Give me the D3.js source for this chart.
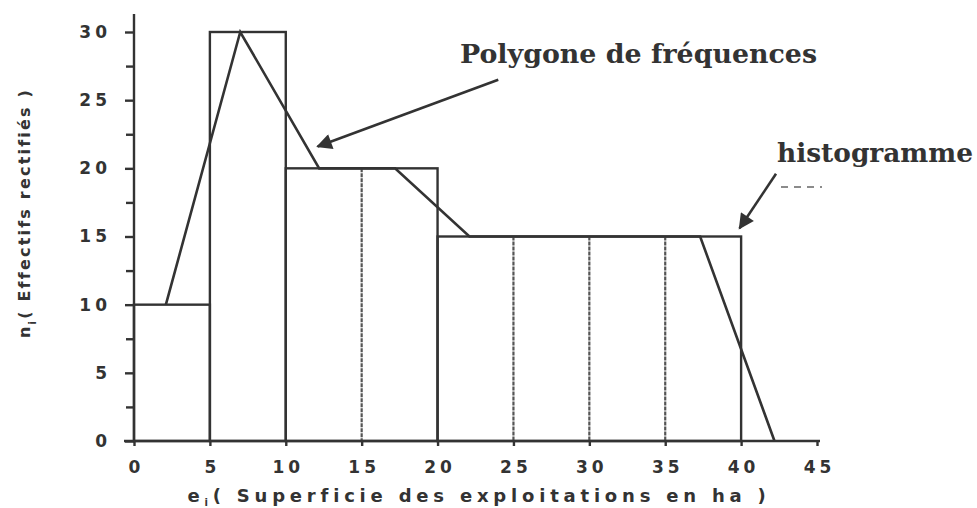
<!DOCTYPE html>
<html>
<head>
<meta charset="utf-8">
<title>Histogramme et polygone de fréquences</title>
<script src="https://cdn.jsdelivr.net/npm/d3@7"></script>
<style>
  body { margin: 0; background: #fff; }
  text { fill: #333; }
</style>
</head>
<body>
<div id="chart"></div>
<script>
// classes of the histogram (ha) and rectified counts
var classLow  = [0, 5, 10, 20];
var classHigh = [5, 10, 20, 40];
var classN    = [10, 30, 20, 15];

// thin dividing lines inside the wide classes
var dividerX = [15, 25, 30, 35];
var dividerN = [20, 15, 15, 15];

// frequency polygon
var polyX = [2.1, 7, 12.2, 17.2, 22.1, 37.3, 42.2];
var polyN = [10, 30, 20, 20, 15, 15, 0];

var xTicks = [0, 5, 10, 15, 20, 25, 30, 35, 40, 45];
var yTicks = [0, 5, 10, 15, 20, 25, 30];
var yMinor = [2.5, 7.5, 12.5, 17.5, 22.5, 27.5];

var width = 977, height = 508;
var ink = "#333";

var x = d3.scaleLinear().domain([0, 45]).range([134, 817]);
var y = d3.scaleLinear().domain([0, 30]).range([441, 32]);

var svg = d3.select("#chart").append("svg")
  .attr("width", width)
  .attr("height", height);

svg.append("defs").append("marker")
  .attr("id", "head")
  .attr("viewBox", "0 0 10 10")
  .attr("refX", 9).attr("refY", 5)
  .attr("markerWidth", 7).attr("markerHeight", 6)
  .attr("markerUnits", "strokeWidth")
  .attr("orient", "auto")
  .append("path")
  .attr("d", "M0,0 L10,5 L0,10 z")
  .style("fill", ink);

// histogram bars
var bars = classLow.map(function(d, i) { return {lo: d, hi: classHigh[i], n: classN[i]}; });
svg.selectAll("rect.bar").data(bars).enter().append("rect")
  .attr("class", "bar")
  .attr("x", function(d) { return x(d.lo); })
  .attr("y", function(d) { return y(d.n); })
  .attr("width", function(d) { return x(d.hi) - x(d.lo); })
  .attr("height", function(d) { return y(0) - y(d.n); })
  .style("fill", "none")
  .style("stroke", ink)
  .style("stroke-width", 2.4);

// inner dividers
svg.selectAll("line.div").data(dividerX).enter().append("line")
  .attr("class", "div")
  .attr("x1", function(d) { return x(d); })
  .attr("x2", function(d) { return x(d); })
  .attr("y1", function(d, i) { return y(dividerN[i]); })
  .attr("y2", y(0))
  .style("stroke", "#555")
  .style("stroke-width", 2.2)
  .style("stroke-dasharray", "4,1");

// frequency polygon
var pts = polyX.map(function(d, i) { return [x(d), y(polyN[i])]; });
svg.append("path")
  .attr("d", d3.line()(pts))
  .style("fill", "none")
  .style("stroke", ink)
  .style("stroke-width", 2.6)
  .style("stroke-linejoin", "miter");

// y axis
var yAxis = svg.append("g").attr("transform", "translate(" + x(0) + ",0)")
  .call(d3.axisLeft(y).tickValues(yTicks).tickSize(9).tickPadding(14)
    .tickFormat(d3.format("d")));
svg.append("g").attr("transform", "translate(" + x(0) + ",0)")
  .call(d3.axisLeft(y).tickValues(yMinor).tickSize(8).tickFormat(""))
  .select(".domain").remove();
yAxis.select(".domain").attr("d", "M0,14 V" + y(0));

// x axis
var xAxis = svg.append("g").attr("transform", "translate(0," + y(0) + ")")
  .call(d3.axisBottom(x).tickValues(xTicks).tickSize(5).tickPadding(15)
    .tickFormat(d3.format("d")));
xAxis.select(".domain").attr("d", "M" + (x(0) - 10) + ",0 H" + (x(45) + 3));

svg.selectAll(".domain, .tick line")
  .style("stroke", ink)
  .style("stroke-width", 2.4);
svg.selectAll(".tick text")
  .style("font-family", "DejaVu Sans")
  .style("font-weight", "bold")
  .style("font-size", "17px")
  .style("letter-spacing", "4px")
  .style("fill", ink);
xAxis.selectAll(".tick text").attr("dx", 2);

// axis titles
var yt = svg.append("text")
  .attr("transform", "translate(30,213) rotate(-90)")
  .attr("text-anchor", "middle")
  .style("font-family", "DejaVu Sans")
  .style("font-weight", "bold")
  .style("font-size", "16px")
  .style("letter-spacing", "2.2px");
yt.append("tspan").text("n");
yt.append("tspan").attr("dy", 6).style("font-size", "10px").text("i");
yt.append("tspan").attr("dy", -6).text("( Effectifs rectifiés )");

var xt = svg.append("text")
  .attr("x", 479).attr("y", 502)
  .attr("text-anchor", "middle")
  .style("font-family", "DejaVu Sans")
  .style("font-weight", "bold")
  .style("font-size", "18px")
  .style("letter-spacing", "4.8px");
xt.append("tspan").text("e");
xt.append("tspan").attr("dy", 4).style("font-size", "10px").text("i");
xt.append("tspan").attr("dy", -4).text("( Superficie des exploitations en ha )");

// annotations
svg.append("text")
  .attr("x", 460).attr("y", 63)
  .attr("textLength", 357)
  .attr("lengthAdjust", "spacingAndGlyphs")
  .style("font-family", "DejaVu Serif")
  .style("font-weight", "bold")
  .style("font-size", "26px")
  .text("Polygone de fréquences");

svg.append("line")
  .attr("x1", x(24)).attr("y1", y(26.5))
  .attr("x2", x(12.1)).attr("y2", y(21.6))
  .style("stroke", ink)
  .style("stroke-width", 2.6)
  .attr("marker-end", "url(#head)");

svg.append("text")
  .attr("x", 777).attr("y", 162)
  .attr("textLength", 196)
  .attr("lengthAdjust", "spacingAndGlyphs")
  .style("font-family", "DejaVu Serif")
  .style("font-weight", "bold")
  .style("font-size", "26px")
  .text("histogramme");

svg.append("line")
  .attr("x1", 781).attr("y1", 187).attr("x2", 822).attr("y2", 187)
  .style("stroke", "#666")
  .style("stroke-width", 1.5)
  .style("stroke-dasharray", "7,6");

svg.append("line")
  .attr("x1", x(42.3)).attr("y1", y(19.6))
  .attr("x2", x(39.9)).attr("y2", y(15.6))
  .style("stroke", ink)
  .style("stroke-width", 2.6)
  .attr("marker-end", "url(#head)");
</script>
</body>
</html>
